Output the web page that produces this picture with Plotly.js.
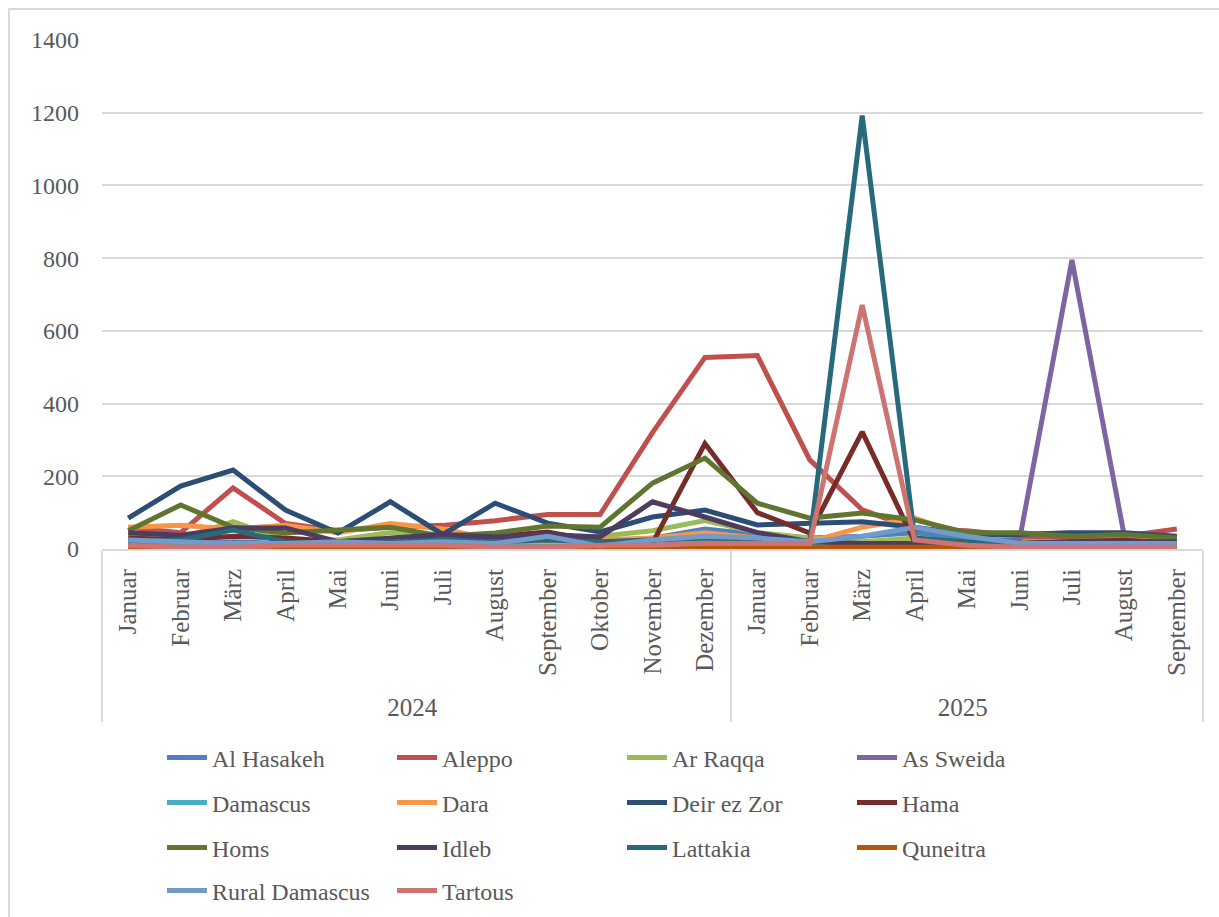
<!DOCTYPE html>
<html>
<head>
<meta charset="utf-8">
<script src="https://cdn.plot.ly/plotly-3.0.1.min.js"></script>
<style>
html,body{margin:0;padding:0;background:#fff;}
#chart{width:1219px;height:917px;}
</style>
</head>
<body>
<div id="chart"></div>
<script>
// ---- data ----
const years = ["2024","2024","2024","2024","2024","2024","2024","2024","2024","2024","2024","2024",
               "2025","2025","2025","2025","2025","2025","2025","2025","2025"];
const months = ["Januar","Februar","März","April","Mai","Juni","Juli","August","September","Oktober","November","Dezember",
                "Januar","Februar","März","April","Mai","Juni","Juli","August","September"];

const alHasakeh     = [20,15,20,15,20,20,25,20,25,15,30,55,40,30,35,45,30,25,25,25,30];
const aleppo        = [60,45,168,70,50,60,65,78,95,95,320,527,532,245,108,55,50,35,30,35,55];
const arRaqqa       = [35,30,75,25,25,45,30,20,30,35,50,78,45,30,20,30,20,20,20,25,25];
const asSweida      = [5,5,5,5,5,5,5,5,5,5,5,5,5,5,5,5,5,25,795,35,10];
const damascus      = [15,10,10,10,10,10,10,10,15,10,15,25,20,15,10,15,10,10,10,10,10];
const dara          = [60,65,55,65,45,70,55,25,20,25,30,45,30,20,60,85,35,40,45,30,25];
const deirEzZor     = [85,173,217,107,44,130,40,126,71,47,88,107,66,71,75,60,40,40,45,45,35];
const hama          = [30,25,35,30,20,25,30,35,47,20,16,290,100,44,322,20,15,15,20,25,15];
const homs          = [50,121,60,44,52,60,35,44,63,60,181,250,126,85,99,80,45,45,35,40,30];
const idleb         = [45,38,58,58,20,30,40,33,40,33,130,88,45,20,15,15,10,15,20,20,20];
const lattakia      = [20,25,52,20,15,20,25,20,25,20,25,30,25,20,1192,30,20,10,10,15,15];
const quneitra      = [5,5,5,5,5,5,5,5,5,5,5,5,5,5,5,5,5,5,5,5,5];
const ruralDamascus = [25,20,15,15,20,15,20,15,35,8,25,35,30,20,35,60,35,15,15,15,15];
const tartous       = [10,5,5,10,10,10,10,5,5,10,10,16,15,15,671,25,10,5,5,5,5];

const seriesNames = ["Al Hasakeh","Aleppo","Ar Raqqa","As Sweida","Damascus","Dara","Deir ez Zor","Hama",
                     "Homs","Idleb","Lattakia","Quneitra","Rural Damascus","Tartous"];
const seriesValues = [alHasakeh,aleppo,arRaqqa,asSweida,damascus,dara,deirEzZor,hama,
                      homs,idleb,lattakia,quneitra,ruralDamascus,tartous];
const seriesColors = ["#4F81BD","#C0504D","#9BBB59","#8064A2","#4BACC6","#F79646","#2C4D75","#772C2A",
                      "#5F7530","#4D3B62","#276A7C","#B65708","#729ACA","#CD7371"];

const FONT = "Liberation Serif, Cambria, serif";
const TXT = "#595959";
const GRID = "#D9D9D9";

const legendIds = ["legend","legend2","legend3","legend4"];
const traces = seriesNames.map((n,i)=>({
  type:"scatter", mode:"lines", name:n,
  x:[years, months], y:seriesValues[i],
  line:{color:seriesColors[i], width:5, shape:"linear"},
  legend: legendIds[Math.floor(i/4)],
  hoverinfo:"skip"
}));

// plot area: left 102, right 1203, top 40, bottom 549
const L=102, R=1203, T=40, B=549;
const W=R-L, H=B-T;
const px2x = p => (p-L)/W;
const py2y = p => (B-p)/H;

const rowY = [758, 803, 848, 891];
function mkLegend(k){
  return {
    orientation:"h", x:px2x(162), xanchor:"left",
    y:py2y(rowY[k]), yanchor:"middle",
    entrywidth:175, entrywidthmode:"pixels",
    font:{family:FONT, size:24, color:TXT},
    bgcolor:"rgba(0,0,0,0)", traceorder:"normal",
    itemwidth:40
  };
}

const layout = {
  width:1219, height:917,
  margin:{l:L, r:1219-R, t:T, b:917-B, pad:0, autoexpand:false},
  paper_bgcolor:"#fff", plot_bgcolor:"#fff",
  font:{family:FONT, color:TXT, size:24},
  showlegend:true,
  legend:mkLegend(0), legend2:mkLegend(1), legend3:mkLegend(2), legend4:mkLegend(3),
  xaxis:{
    type:"multicategory",
    range:[-0.5, 20.5],
    tickangle:-90,
    ticklabelstandoff:8,
    tickfont:{family:FONT, size:25, color:TXT},
    showline:true, linecolor:GRID, linewidth:2,
    showgrid:false, ticks:"",
    showdividers:true, dividercolor:GRID, dividerwidth:2,
    fixedrange:true
  },
  yaxis:{
    range:[0,1400], dtick:200, tick0:0,
    showgrid:true, gridcolor:GRID, gridwidth:2,
    zeroline:false, showline:false, ticks:"",
    ticklabelstandoff:22,
    tickfont:{family:FONT, size:24, color:TXT},
    fixedrange:true
  },
  shapes:[
    {type:"rect", xref:"paper", yref:"paper",
     x0:px2x(9), x1:px2x(1240), y0:py2y(940), y1:py2y(9),
     line:{color:GRID, width:2}, fillcolor:"rgba(0,0,0,0)", layer:"below"}
  ]
};

Plotly.newPlot("chart", traces, layout, {displayModeBar:false, staticPlot:true});
</script>
</body>
</html>
